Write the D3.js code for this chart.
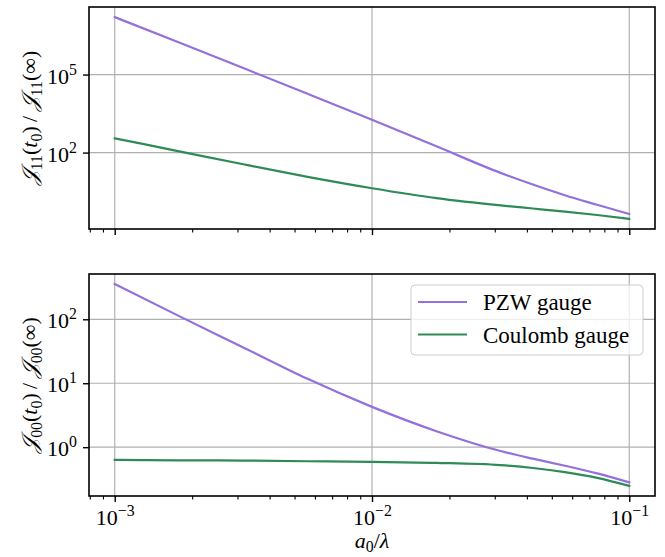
<!DOCTYPE html>
<html>
<head>
<meta charset="utf-8">
<script src="https://cdn.jsdelivr.net/npm/d3@7"></script>
<style>
  body { margin: 0; background: #fff; }
  svg { display: block; }
</style>
</head>
<body>
<svg id="chart" width="665" height="557"></svg>
<script>
// a0 / lambda sample points
const ratio = [0.001, 0.00178, 0.00316, 0.00562, 0.01, 0.0178, 0.0316, 0.0422, 0.0562, 0.0750, 0.1];

// J11(t0) / J11(inf)
const j11PZW     = [1.62e7, 1.70e6, 1.78e5, 1.82e4, 1820, 174, 16.6, 5.89, 2.29, 0.989, 0.437];
const j11Coulomb = [355, 112, 35.5, 11.7, 4.27, 1.78, 0.933, 0.708, 0.537, 0.398, 0.282];

// J00(t0) / J00(inf)
const j00PZW     = [355, 112, 36.3, 11.7, 4.27, 1.78, 0.871, 0.661, 0.513, 0.389, 0.282];
const j00Coulomb = [0.631, 0.624, 0.617, 0.603, 0.589, 0.569, 0.525, 0.473, 0.407, 0.331, 0.248];

const seriesNames = ["PZW gauge", "Coulomb gauge"];
const xTicks   = [1e-3, 1e-2, 1e-1];
const j11Ticks = [1e2, 1e5];
const j00Ticks = [1e0, 1e1, 1e2];

const colors = ["#9370db", "#2e8b57"];
const gridColor = "#b0b0b0";
const fontFamily = "'Liberation Serif', 'Times New Roman', serif";
const fontSize = 22;

const svg = d3.select("#chart");
const frame = { left: 89, right: 655 };
const panels = [
  { top: 7,   bottom: 229, series: [j11PZW, j11Coulomb], ticks: j11Ticks, idx: "11", xLabels: false },
  { top: 274, bottom: 496, series: [j00PZW, j00Coulomb], ticks: j00Ticks, idx: "00", xLabels: true }
];

// log-space extent padded by 5% on each side
function logPad(vals) {
  const lo = Math.log10(d3.min(vals)), hi = Math.log10(d3.max(vals));
  const m = (hi - lo) * 0.05;
  return [Math.pow(10, lo - m), Math.pow(10, hi + m)];
}

const x = d3.scaleLog().domain(logPad(ratio)).range([frame.left, frame.right]);
const [xd0, xd1] = x.domain();
const xMinor = [];
for (let k = -5; k <= 0; k++) {
  for (let m = 2; m <= 9; m++) {
    const v = m * Math.pow(10, k);
    if (v >= xd0 && v <= xd1) xMinor.push(v);
  }
}

// "10^e" label built from tspans
function powerLabel(sel) {
  sel.each(function(v) {
    const e = Math.round(Math.log10(v));
    const t = d3.select(this).text(null)
      .attr("font-family", fontFamily).attr("font-size", fontSize).attr("fill", "#000");
    t.append("tspan").text("10");
    t.append("tspan").attr("dy", -9).attr("font-size", fontSize * 0.72)
      .text(e < 0 ? "\u2212" + (-e) : String(e));
  });
}

panels.forEach(p => {
  const y = d3.scaleLog().domain(logPad(p.series.flat())).range([p.bottom, p.top]);
  const g = svg.append("g");

  // grid
  g.append("g").selectAll("line").data(xTicks).join("line")
    .attr("x1", d => x(d)).attr("x2", d => x(d))
    .attr("y1", p.top).attr("y2", p.bottom)
    .attr("stroke", gridColor).attr("stroke-width", 1.2);
  g.append("g").selectAll("line").data(p.ticks).join("line")
    .attr("x1", frame.left).attr("x2", frame.right)
    .attr("y1", d => y(d)).attr("y2", d => y(d))
    .attr("stroke", gridColor).attr("stroke-width", 1.2);

  // curves
  const line = d3.line()
    .x((d, j) => x(ratio[j]))
    .y(d => y(d))
    .curve(d3.curveMonotoneX);
  p.series.forEach((s, i) => {
    g.append("path").datum(s)
      .attr("d", line)
      .attr("fill", "none")
      .attr("stroke", colors[i])
      .attr("stroke-width", 2.2)
      .attr("stroke-linecap", "square");
  });

  // x axis: major + minor ticks
  const xMajor = g.append("g").attr("transform", `translate(0,${p.bottom})`)
    .call(d3.axisBottom(x).tickValues(xTicks).tickSize(6).tickPadding(6));
  xMajor.select(".domain").remove();
  xMajor.selectAll(".tick line").attr("stroke", "#000").attr("stroke-width", 1.4);
  if (p.xLabels) {
    xMajor.selectAll(".tick text").attr("dy", null).attr("y", 29).call(powerLabel);
  } else {
    xMajor.selectAll(".tick text").remove();
  }
  const xMin = g.append("g").attr("transform", `translate(0,${p.bottom})`)
    .call(d3.axisBottom(x).tickValues(xMinor).tickSize(3.5).tickFormat(""));
  xMin.select(".domain").remove();
  xMin.selectAll(".tick line").attr("stroke", "#000").attr("stroke-width", 1.1);

  // y axis
  const yAx = g.append("g").attr("transform", `translate(${frame.left},0)`)
    .call(d3.axisLeft(y).tickValues(p.ticks).tickSize(6).tickPadding(6));
  yAx.select(".domain").remove();
  yAx.selectAll(".tick line").attr("stroke", "#000").attr("stroke-width", 1.4);
  yAx.selectAll(".tick text").attr("dy", null).attr("y", 8.5).attr("x", -12).call(powerLabel);

  // frame
  g.append("rect")
    .attr("x", frame.left).attr("y", p.top)
    .attr("width", frame.right - frame.left).attr("height", p.bottom - p.top)
    .attr("fill", "none").attr("stroke", "#000").attr("stroke-width", 1.6);

  // y label: J_idx(t_0) / J_idx(inf)
  const cy = (p.top + p.bottom) / 2;
  const lab = svg.append("text")
    .attr("transform", `translate(37,${cy}) rotate(-90)`)
    .attr("text-anchor", "middle")
    .attr("font-family", fontFamily).attr("font-size", fontSize);
  const sub = (txt) => {
    lab.append("tspan").attr("dy", 5).attr("font-size", fontSize * 0.72).text(txt);
    return -5;
  };
  lab.append("tspan").attr("font-style", "italic").text("\u{1D4A5}");
  let back = sub(p.idx);
  lab.append("tspan").attr("dy", back).text("(");
  lab.append("tspan").attr("font-style", "italic").text("t");
  back = sub("0");
  lab.append("tspan").attr("dy", back).text(")\u2009/\u2009");
  lab.append("tspan").attr("font-style", "italic").text("\u{1D4A5}");
  back = sub(p.idx);
  lab.append("tspan").attr("dy", back).text("(\u221E)");

  // legend in lower panel
  if (p.xLabels) {
    const lg = svg.append("g").attr("transform", `translate(${frame.right - 12},${p.top + 11})`);
    lg.append("rect")
      .attr("x", -232).attr("y", 0).attr("width", 232).attr("height", 70)
      .attr("rx", 4).attr("fill", "#fff").attr("fill-opacity", 0.8)
      .attr("stroke", "#cccccc").attr("stroke-width", 1);
    seriesNames.forEach((name, i) => {
      const ly = 17 + i * 32.5;
      lg.append("line").attr("x1", -225).attr("x2", -176).attr("y1", ly).attr("y2", ly)
        .attr("stroke", colors[i]).attr("stroke-width", 2.2);
      lg.append("text").attr("x", -160).attr("y", ly + 8)
        .attr("font-family", fontFamily).attr("font-size", 23).text(name);
    });
  }
});

// x label: a_0 / lambda
const xl = svg.append("text")
  .attr("x", (frame.left + frame.right) / 2).attr("y", 548)
  .attr("text-anchor", "middle")
  .attr("font-family", fontFamily).attr("font-size", fontSize);
xl.append("tspan").attr("font-style", "italic").text("a");
xl.append("tspan").attr("dy", 4).attr("font-size", fontSize * 0.72).text("0");
xl.append("tspan").attr("dy", -4).text("/");
xl.append("tspan").attr("font-style", "italic").text("\u03BB");
</script>
</body>
</html>
